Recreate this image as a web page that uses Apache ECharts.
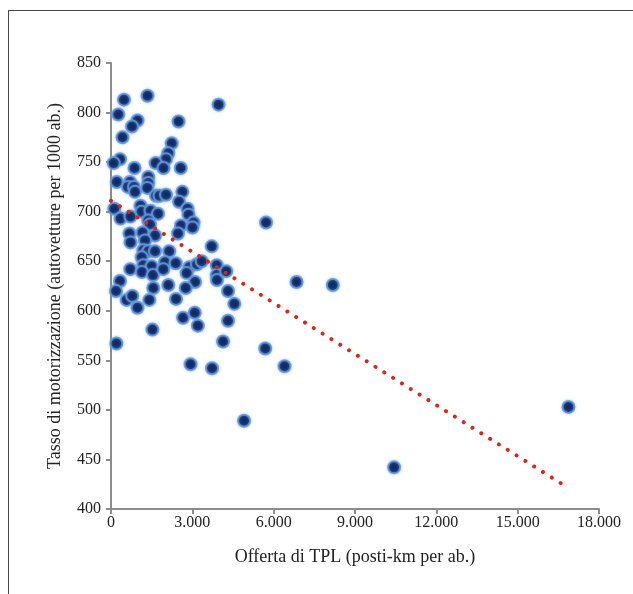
<!DOCTYPE html>
<html>
<head>
<meta charset="utf-8">
<script src="https://cdn.jsdelivr.net/npm/echarts@6/dist/echarts.min.js"></script>
<style>
  html, body { margin: 0; padding: 0; background: #fff; }
  #frame { position: absolute; left: 8px; top: 10px; width: 625px; height: 584px;
    border-top: 1.5px solid #484848; border-left: 1.5px solid #484848; }
  #chart { position: absolute; left: 0; top: 0; width: 633px; height: 594px; }
</style>
</head>
<body>
<div id="frame"></div>
<div id="chart"></div>
<script>
// Offerta di TPL (posti-km per ab.)
const offerta = [
  480, 1347, 3967, 269, 978, 775, 2491, 424, 2240, 2114,
  2030, 332, 100, 867, 1649, 1937, 2572, 214, 701, 1376,
  1376, 627, 849, 886, 1339, 2631, 1661, 1790, 2030, 2509,
  122, 1089, 1125, 1458, 1734, 2823, 2860, 351, 720, 1376,
  1439, 2583, 3044, 3007, 683, 1162, 1624, 2472, 720, 1255,
  5720, 3716, 1192, 1376, 1624, 2148, 1133, 1192, 1502, 1993,
  2387, 712, 1144, 1550, 1930, 2889, 2793, 3173, 3347, 3900,
  3900, 3911, 4251, 332, 3100, 6845, 8181, 2114, 2756, 1561,
  185, 4317, 579, 786, 1413, 2399, 978, 4550, 2657, 3089,
  3203, 4317, 1528, 4133, 199, 5690, 2934, 3727, 6402, 4908,
  10443, 16874
];
// Tasso di motorizzazione (autovetture per 1000 ab.)
const tasso = [
  813, 817, 808, 798, 792, 786, 791, 775, 769, 759,
  753, 753, 749, 744, 749, 744, 744, 730, 730, 735,
  729, 725, 725, 720, 724, 720, 716, 716, 717, 710,
  703, 706, 700, 701, 698, 703, 697, 693, 695, 691,
  687, 686, 689, 684, 678, 679, 676, 678, 669, 671,
  689, 665, 661, 660, 660, 660, 654, 646, 645, 649,
  648, 642, 639, 636, 642, 644, 638, 647, 650, 646,
  636, 631, 640, 630, 629, 629, 626, 626, 623, 623,
  620, 620, 611, 615, 611, 612, 603, 607, 593, 598,
  585, 590, 581, 569, 567, 562, 546, 542, 544, 489,
  442, 503
];
// linea di tendenza (estremi)
const trendX = [0, 16650];
const trendY = [711, 425];

const xTicks = { min: 0, max: 18000, step: 3000 };
const yTicks = { min: 400, max: 850, step: 50 };

const serif = '"Liberation Serif", "DejaVu Serif", serif';
const axisGray = '#8c8c8c';

const chart = echarts.init(document.getElementById('chart'), null, { renderer: 'canvas' });
chart.setOption({
  backgroundColor: 'transparent',
  animation: false,
  grid: { left: 111, right: 34, top: 63, bottom: 85 },
  xAxis: {
    type: 'value', min: xTicks.min, max: xTicks.max, interval: xTicks.step,
    name: 'Offerta di TPL (posti-km per ab.)', nameLocation: 'middle', nameGap: 39,
    nameTextStyle: { color: '#222', fontSize: 18, fontFamily: serif },
    axisLine: { show: true, lineStyle: { color: axisGray, width: 2 } },
    axisTick: { show: true, length: 5, lineStyle: { color: axisGray, width: 2 } },
    axisLabel: { color: '#222', fontSize: 16, fontFamily: serif, margin: 6,
      formatter: v => v.toLocaleString('it-IT').replace(/\u00a0/g, '.').replace(/,/g, '.') },
    splitLine: { show: false }
  },
  yAxis: {
    type: 'value', min: yTicks.min, max: yTicks.max, interval: yTicks.step,
    name: 'Tasso di motorizzazione (autovetture per 1000 ab.)', nameLocation: 'middle', nameGap: 47,
    nameTextStyle: { color: '#222', fontSize: 18, fontFamily: serif },
    axisLine: { show: true, lineStyle: { color: axisGray, width: 2 } },
    axisTick: { show: true, length: 5, lineStyle: { color: axisGray, width: 2 } },
    axisLabel: { color: '#222', fontSize: 16, fontFamily: serif, margin: 10 },
    splitLine: { show: false }
  },
  series: [
    {
      type: 'line',
      data: trendX.map((x, i) => [x, trendY[i]]),
      symbol: 'none',
      z: 3,
      lineStyle: { color: '#d8261c', width: 4, type: [0.01, 10.4], cap: 'round' }
    },
    {
      type: 'scatter',
      data: offerta.map((x, i) => [x, tasso[i]]),
      symbolSize: 12,
      z: 2,
      itemStyle: {
        color: '#112b66', borderColor: 'rgba(100,150,220,0.85)', borderWidth: 2,
        shadowColor: 'rgba(110,160,230,0.6)', shadowBlur: 3, opacity: 1
      }
    }
  ]
});
</script>
</body>
</html>
